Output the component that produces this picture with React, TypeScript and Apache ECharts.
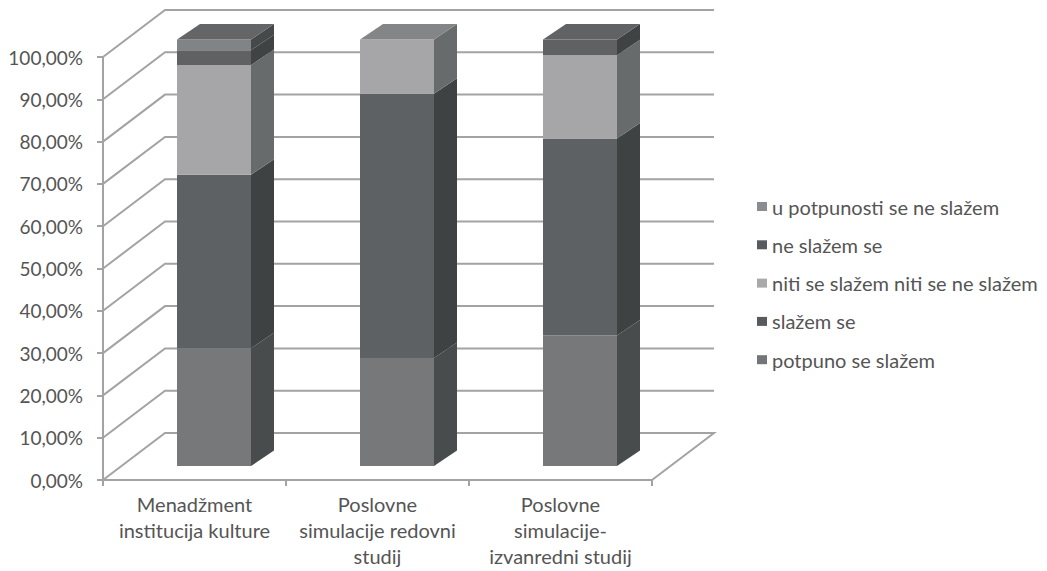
import React, { useEffect, useRef } from "react";
import * as echarts from "echarts";

const categories = [
  "Menadžment\ninstitucija kulture",
  "Poslovne\nsimulacije redovni\nstudij",
  "Poslovne\nsimulacije-\nizvanredni studij",
];
const seriesNames = [
  "potpuno se slažem",
  "slažem se",
  "niti se slažem niti se ne slažem",
  "ne slažem se",
  "u potpunosti se ne slažem",
];
const potpuno = [27.6, 25.3, 30.6];
const slazem = [40.7, 62.0, 46.2];
const niti = [25.7, 12.7, 19.5];
const neSlazem = [3.5, 0, 3.7];
const uPotpunosti = [2.5, 0, 0];
const seriesValues = [potpuno, slazem, niti, neSlazem, uPotpunosti];
const yTicks = [0, 10, 20, 30, 40, 50, 60, 70, 80, 90, 100];

const FRONT = ["#76787a", "#5e6163", "#a6a5a7", "#5f6163", "#808486"];
const SIDE = ["#484c4d", "#3e4243", "#686b6c", "#3f4344", "#45494b"];
const TOP = ["#77797b", "#606264", "#838586", "#606264", "#636567"];
const SWATCH = ["#737578", "#585b5d", "#a9a9a9", "#585b5d", "#8a8d8f"];

const FONT = "Lato, 'Noto Sans', sans-serif";
const TEXT = "#555555";
const LINE = "#a3a3a3";

// Oblique offset of the chart floor and of each bar's depth.
const WALL_DX = 62;
const WALL_DY = -47;
const BAR_DX = 23;
const BAR_DY = -15.5;
const BAR_WIDTH = 74;

function wallItem(params: any, api: any) {
  const cs = params.coordSys;
  const y = api.coord([0, api.value(0)])[1];
  const x0 = cs.x;
  const x1 = cs.x + cs.width;
  const isFloor = api.value(0) === 0;
  const points = [
    [x0, y],
    [x0 + WALL_DX, y + WALL_DY],
    [x1 + WALL_DX, y + WALL_DY],
  ];
  if (isFloor) points.push([x1, y]);
  return {
    type: "polyline",
    shape: { points },
    style: { stroke: LINE, fill: "none", lineWidth: 2 },
  };
}

function barItem(seriesIndex: number) {
  return (_params: any, api: any) => {
    const cat = api.value(0);
    const start = api.value(1);
    const end = api.value(2);
    if (end <= start) return { type: "group", children: [] };
    const centre = api.coord([cat, 0])[0];
    const yb = api.coord([cat, start])[1];
    const yt = api.coord([cat, end])[1];
    const l = centre - BAR_WIDTH / 2;
    const r = centre + BAR_WIDTH / 2;
    const children: any[] = [
      {
        type: "polygon",
        shape: {
          points: [
            [r, yb],
            [r + BAR_DX, yb + BAR_DY],
            [r + BAR_DX, yt + BAR_DY],
            [r, yt],
          ],
        },
        style: { fill: SIDE[seriesIndex] },
      },
      {
        type: "rect",
        shape: { x: l, y: yt, width: BAR_WIDTH, height: yb - yt },
        style: { fill: FRONT[seriesIndex] },
      },
    ];
    if (api.value(3) === 1) {
      children.push({
        type: "polygon",
        shape: {
          points: [
            [l, yt],
            [l + BAR_DX, yt + BAR_DY],
            [r + BAR_DX, yt + BAR_DY],
            [r, yt],
          ],
        },
        style: { fill: TOP[seriesIndex] },
      });
    }
    return { type: "group", children };
  };
}

function stackedRows(index: number) {
  return categories.map((_, cat) => {
    let start = 0;
    for (let i = 0; i < index; i++) start += seriesValues[i][cat];
    const end = start + seriesValues[index][cat];
    let above = 0;
    for (let i = index + 1; i < seriesValues.length; i++) above += seriesValues[i][cat];
    return [cat, start, end, above === 0 ? 1 : 0];
  });
}

export default function App() {
  const ref = useRef<HTMLDivElement>(null);

  useEffect(() => {
    if (!ref.current) return;
    const chart = echarts.init(ref.current, undefined, { renderer: "svg" });
    chart.setOption({
      animation: false,
      backgroundColor: "#ffffff",
      legend: {
        orient: "vertical",
        left: 752,
        top: 191.5,
        icon: "rect",
        itemWidth: 10,
        itemHeight: 9,
        itemGap: 18.3,
        data: [...seriesNames].reverse(),
        textStyle: {
          fontFamily: FONT,
          fontSize: 20,
          color: TEXT,
          lineHeight: 18,
        },
      },
      grid: [
        { left: 103, top: 57, width: 549, height: 423, outerBoundsMode: "none" },
        { left: 122.5, top: 39.5, width: 549, height: 426.5, outerBoundsMode: "none" },
      ],
      xAxis: [
        {
          type: "category",
          gridIndex: 0,
          data: categories,
          axisLine: { lineStyle: { color: LINE, width: 2 } },
          axisTick: { show: true, length: 6, lineStyle: { color: LINE, width: 2 } },
          axisLabel: {
            fontFamily: FONT,
            fontSize: 20,
            color: TEXT,
            lineHeight: 26,
            margin: 11,
            interval: 0,
          },
        },
        {
          type: "category",
          gridIndex: 1,
          data: categories,
          show: false,
        },
      ],
      yAxis: [
        {
          type: "value",
          gridIndex: 0,
          min: 0,
          max: 100,
          interval: 10,
          axisLine: { show: true, lineStyle: { color: LINE, width: 2 } },
          axisTick: { show: true, length: 6, lineStyle: { color: LINE, width: 2 } },
          splitLine: { show: false },
          axisLabel: {
            fontFamily: FONT,
            fontSize: 19,
            color: TEXT,
            margin: 20,
            formatter: (v: number) => v.toFixed(2).replace(".", ",") + "%",
          },
        },
        {
          type: "value",
          gridIndex: 1,
          min: 0,
          max: 100,
          show: false,
        },
      ],
      series: [
        {
          type: "custom",
          name: "zid",
          xAxisIndex: 0,
          yAxisIndex: 0,
          silent: true,
          clip: false,
          encode: { y: 0 },
          data: yTicks.map((v) => [v]),
          renderItem: wallItem,
        },
        ...seriesNames.map((name, i) => ({
          type: "custom",
          name,
          xAxisIndex: 1,
          yAxisIndex: 1,
          clip: false,
          itemStyle: { color: SWATCH[i] },
          encode: { x: 0, y: [1, 2] },
          data: stackedRows(i),
          renderItem: barItem(i),
        })),
      ],
    });
    return () => chart.dispose();
  }, []);

  return (
    <div
      ref={ref}
      style={{ position: "fixed", left: 0, top: 0, width: 1047, height: 571 }}
    />
  );
}
